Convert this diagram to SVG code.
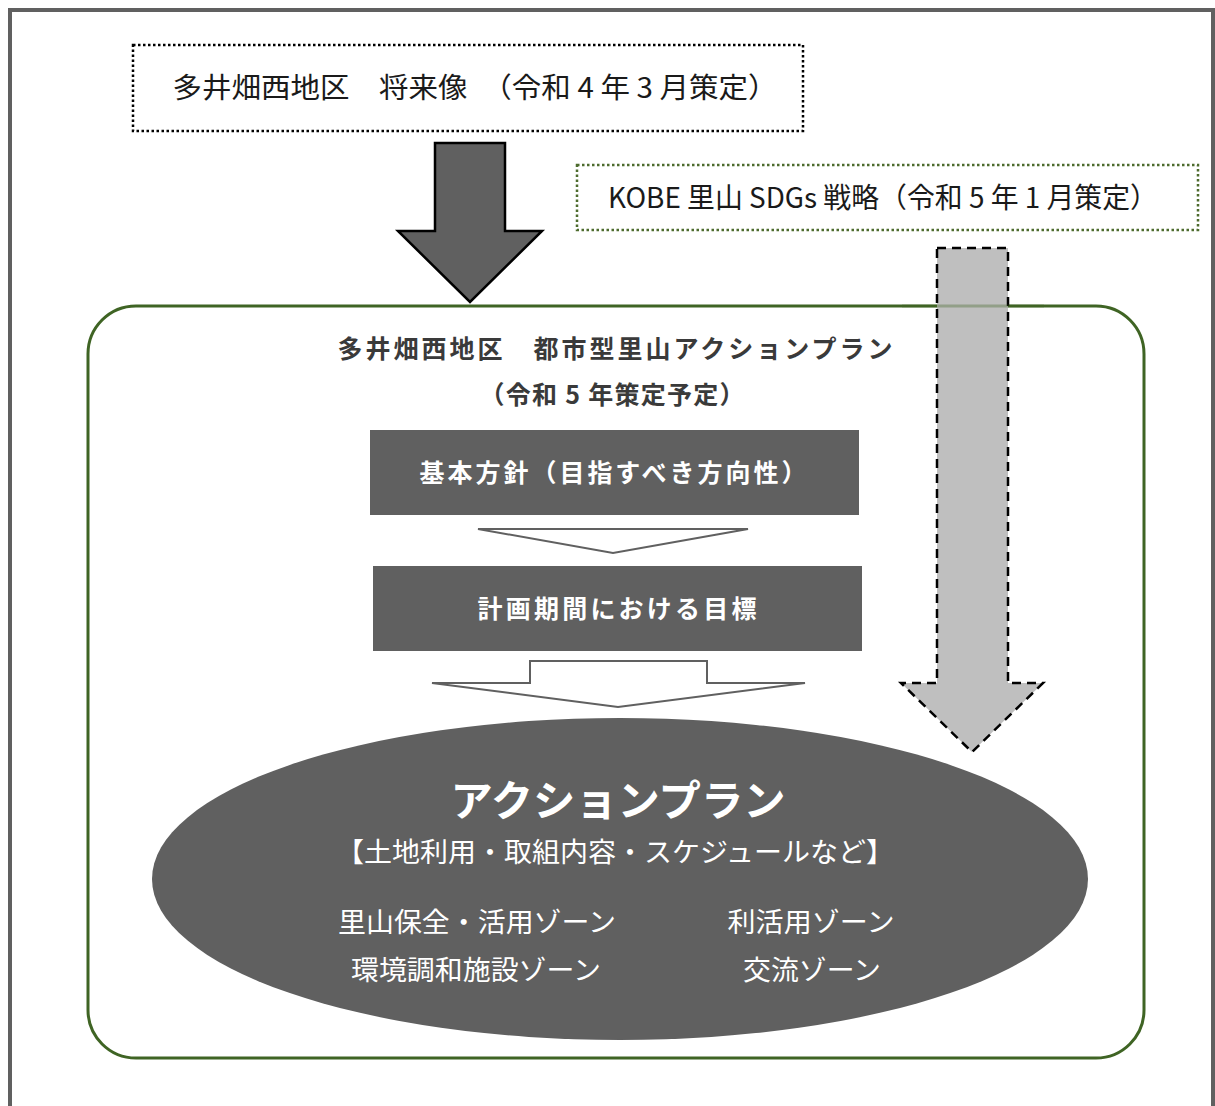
<svg xmlns="http://www.w3.org/2000/svg" width="1215" height="1106" viewBox="0 0 1215 1106">
<style>
.t{font-family:"Noto Sans CJK JP","Noto Sans",sans-serif;text-anchor:middle}
.dk{fill:#1a1a1a}
.ttl{fill:#3a3a3a;font-weight:bold}
.wh{fill:#ffffff}
.b{font-weight:bold}
.box{fill:#606060}
.open{fill:#ffffff;stroke:#606060;stroke-width:2}
</style>
<rect x="0" y="0" width="1215" height="1106" fill="#ffffff"/>
<g id="frame"><path d="M10 1110 V10 H1213 V1110" fill="none" stroke="#606060" stroke-width="4"/></g>

<g id="node-shoraizo">
<rect x="133" y="45" width="670" height="86" fill="#ffffff" stroke="#000000" stroke-width="2.5" stroke-dasharray="2.5,2.5"/>
<text class="t dk" x="475" y="98" font-size="28" textLength="605" lengthAdjust="spacingAndGlyphs">多井畑西地区　将来像　（令和 4 年 3 月策定）</text>
</g>

<g id="node-kobe">
<rect x="577" y="165" width="621" height="65" fill="#ffffff" stroke="#4d6b2d" stroke-width="2.5" stroke-dasharray="2.5,2.5"/>
<text class="t dk" x="883" y="208" font-size="28" textLength="550" lengthAdjust="spacingAndGlyphs">KOBE 里山 SDGs 戦略（令和 5 年 1 月策定）</text>
</g>

<g id="node-plan">
<rect x="88" y="306" width="1056" height="752" rx="48" ry="48" fill="none" stroke="#3f6424" stroke-width="3"/>
<text class="t ttl" x="615" y="358" font-size="25" textLength="555">多井畑西地区　都市型里山アクションプラン</text>
<text class="t ttl" x="612" y="404" font-size="25" textLength="265">（令和 5 年策定予定）</text>
</g>

<g id="node-kihon">
<rect class="box" x="370" y="430" width="489" height="85"/>
<text class="t wh b" x="613" y="482" font-size="25" textLength="387">基本方針（目指すべき方向性）</text>
</g>

<g id="node-mokuhyo">
<rect class="box" x="373" y="566" width="489" height="85"/>
<text class="t wh b" x="617" y="618" font-size="25" textLength="279">計画期間における目標</text>
</g>

<g id="node-action">
<ellipse cx="620" cy="879" rx="468" ry="161" fill="#606060"/>
<text class="t wh b" x="618" y="816" font-size="42" textLength="335" lengthAdjust="spacingAndGlyphs">アクションプラン</text>
<text class="t wh" x="615" y="862" font-size="27" textLength="558" lengthAdjust="spacingAndGlyphs">【土地利用・取組内容・スケジュールなど】</text>
<text class="t wh" x="477" y="932" font-size="27" textLength="278" lengthAdjust="spacingAndGlyphs">里山保全・活用ゾーン</text>
<text class="t wh" x="811" y="932" font-size="27" textLength="167" lengthAdjust="spacingAndGlyphs">利活用ゾーン</text>
<text class="t wh" x="476" y="980" font-size="27" textLength="250" lengthAdjust="spacingAndGlyphs">環境調和施設ゾーン</text>
<text class="t wh" x="812" y="980" font-size="27" textLength="138" lengthAdjust="spacingAndGlyphs">交流ゾーン</text>
</g>

<g id="connectors">
<polygon points="435,143 505,143 505,231 542,231 470,302 398,231 435,231" fill="#606060" stroke="#000000" stroke-width="2.5" stroke-linejoin="miter"/>
<polygon points="937,248 1008,248 1008,683 1043,683 972,752 901,683 937,683" fill="#bfbfbf" stroke="#000000" stroke-width="2.5" stroke-dasharray="9,6"/>
<line x1="902" y1="306" x2="1044" y2="306" stroke="#3f6424" stroke-width="3" opacity="0.35"/>
<polygon class="open" points="478,529 748,529 613,553"/>
<polygon class="open" points="530,661 707,661 707,683 805,683 618,707 432,683 530,683"/>
</g>
</svg>
